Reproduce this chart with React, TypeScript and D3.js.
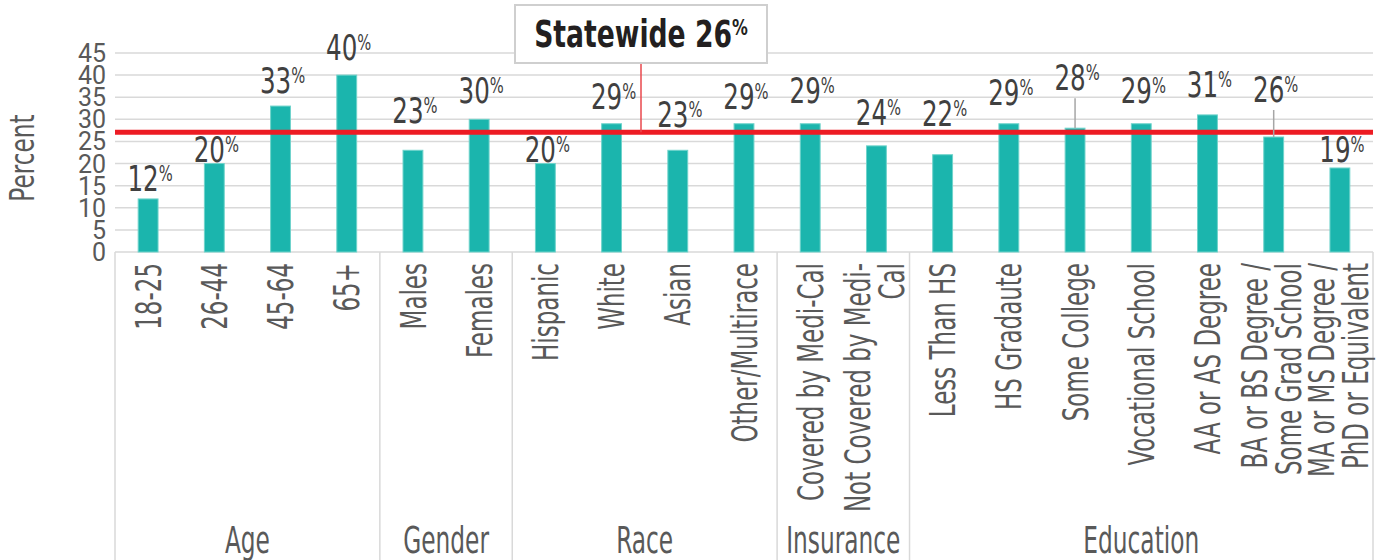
import * as d3 from "d3";

const categories = [
  "18-25", "26-44", "45-64", "65+",
  "Males", "Females",
  "Hispanic", "White", "Asian", "Other/Multirace",
  "Covered by Medi-Cal", "Not Covered by Medi-\nCal",
  "Less Than HS", "HS Gradaute", "Some College", "Vocational School",
  "AA or AS Degree", "BA or BS Degree /\nSome Grad School", "MA or MS Degree /\nPhD or Equivalent",
];
const values = [12, 20, 33, 40, 23, 30, 20, 29, 23, 29, 29, 24, 22, 29, 28, 29, 31, 26, 19];
const groupNames = ["Age", "Gender", "Race", "Insurance", "Education"];
const groupSizes = [4, 2, 4, 2, 7];
const yTicks = [0, 5, 10, 15, 20, 25, 30, 35, 40, 45];
const statewide = 26;
const statewideLineLevel = 27.1; // where the red line sits in the picture

// label placement tweaks (px between bar top and label baseline)
const labelLift = [8, 2, 13, 15, 27, 16, 2, 15, 23, 15, 21, 21, 29, 19, 38, 21, 18, 35, 6];
const leaderLabels = [14, 17];

const W = 1393;
const H = 560;
const left = 115;
const right = 1373;
const axisY = 252;
const topY = 53;
const narrow = "'DejaVu Sans Condensed', 'Liberation Sans Narrow', sans-serif";

export default function App() {
  const x = d3.scaleBand<number>()
    .domain(d3.range(categories.length))
    .range([left, right])
    .paddingInner(0.7)
    .paddingOuter(0.35);
  const step = x.step();
  const y = d3.scaleLinear().domain([0, 45]).range([axisY, topY]);

  const bounds: number[] = [0];
  groupSizes.forEach((s, i) => bounds.push(bounds[i] + s));
  const edgeX = (i: number) => left + i * step;

  const redY = y(statewideLineLevel);
  const boxCx = 641;

  return (
    <svg width={W} height={H} style={{ position: "absolute", left: 0, top: 0, background: "#fff" }}>
      {/* gridlines */}
      {yTicks.slice(1).map((t) => (
        <line key={t} x1={left} x2={right} y1={y(t)} y2={y(t)} stroke="#d9d9d9" strokeWidth={1.5} />
      ))}
      {/* axis line + group separators */}
      <line x1={left} x2={right} y1={axisY} y2={axisY} stroke="#d9d9d9" strokeWidth={1.5} />
      {bounds.map((b) => (
        <line key={b} x1={edgeX(b)} x2={edgeX(b)} y1={axisY} y2={H} stroke="#d9d9d9" strokeWidth={1.5} />
      ))}

      {/* y ticks */}
      {yTicks.map((t) => (
        <text key={t} x={106} y={y(t)} dy="0.36em" textAnchor="end" fontFamily="Roboto, sans-serif"
          fontSize={25} fill="#595959">{t}</text>
      ))}
      <text transform="translate(34,158) rotate(-90) scale(0.76,1)" textAnchor="middle" fontFamily={narrow}
        fontSize={34} fill="#595959">Percent</text>

      {/* bars */}
      {values.map((v, i) => (
        <rect key={i} x={x(i)} y={y(v)} width={x.bandwidth()} height={axisY - y(v)}
          fill="#1bb5ad" stroke="#6fd3cb" strokeWidth={1} />
      ))}

      {/* statewide line */}
      <line x1={left} x2={right} y1={redY} y2={redY} stroke="#ed1c24" strokeWidth={5} />
      <line x1={boxCx} x2={boxCx} y1={63} y2={redY} stroke="#e8474d" strokeWidth={1.5} />
      <rect x={515} y={5} width={252} height={58} fill="#fff" stroke="#cfcfcf" strokeWidth={2} />
      <text transform={`translate(${boxCx},47) scale(0.8,1)`} textAnchor="middle" fontFamily={narrow}
        fontWeight="bold" fontSize={37} fill="#231f20">
        Statewide {statewide}
        <tspan fontSize={22} dy={-12}>%</tspan>
      </text>

      {/* leader lines */}
      {leaderLabels.map((i) => {
        const cx = x(i)! + x.bandwidth() / 2;
        return (
          <line key={i} x1={cx} x2={cx} y1={y(values[i]) - labelLift[i] + 8} y2={y(values[i])}
            stroke="#a6a6a6" strokeWidth={1.5} />
        );
      })}

      {/* value labels */}
      {values.map((v, i) => {
        const cx = x(i)! + x.bandwidth() / 2 + 2;
        return (
          <text key={i} transform={`translate(${cx},${y(v) - labelLift[i]}) scale(0.78,1)`} textAnchor="middle"
            fontFamily={narrow} fontSize={35} fill="#404040">
            {v}
            <tspan fontSize={21} dy={-10}>%</tspan>
          </text>
        );
      })}

      {/* category labels */}
      {categories.map((c, i) => {
        const lines = c.split("\n");
        const cx = x(i)! + x.bandwidth() / 2;
        return lines.map((ln, j) => {
          const off = (j - (lines.length - 1) / 2) * 34 - (lines.length > 1 ? 2 : 0);
          return (
            <text key={`${i}-${j}`} transform={`translate(${cx + off},263) rotate(-90) scale(0.71,1)`}
              textAnchor="end" dy="0.35em" fontFamily={narrow} fontSize={36} fill="#595959">{ln}</text>
          );
        });
      })}

      {/* group labels */}
      {groupNames.map((g, i) => (
        <text key={g} transform={`translate(${(edgeX(bounds[i]) + edgeX(bounds[i + 1])) / 2},553) scale(0.7,1)`}
          textAnchor="middle" fontFamily={narrow} fontSize={37} fill="#595959">{g}</text>
      ))}
    </svg>
  );
}
